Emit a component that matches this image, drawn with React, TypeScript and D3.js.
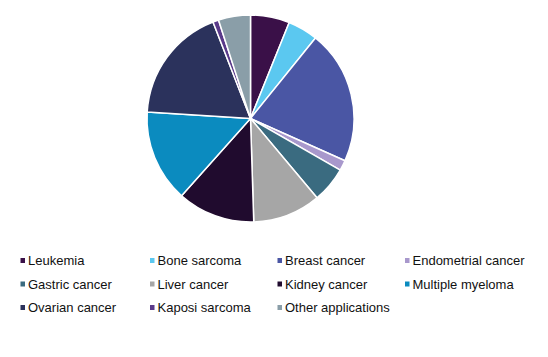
import React from "react";
import * as d3 from "d3";

const categories = [
  "Leukemia",
  "Bone sarcoma",
  "Breast cancer",
  "Endometrial cancer",
  "Gastric cancer",
  "Liver cancer",
  "Kidney cancer",
  "Multiple myeloma",
  "Ovarian cancer",
  "Kaposi sarcoma",
  "Other applications",
];
const values = [6.1, 4.7, 20.9, 1.6, 5.6, 10.6, 12.1, 14.4, 18.1, 0.9, 5.0];
const colors = [
  "#3a1048",
  "#5bc8f0",
  "#4a56a4",
  "#a898cc",
  "#3a6b80",
  "#a6a6a6",
  "#200b2e",
  "#0b8bbf",
  "#2b325c",
  "#5a3a8a",
  "#8a9ea8",
];

export default function App() {
  const W = 548;
  const H = 357;
  const cx = 250.5;
  const cy = 118.5;
  const r = 103.5;
  const pie = d3.pie<number>().sort(null).value((d) => d);
  const arcs = pie(values);
  const arc = d3.arc<d3.PieArcDatum<number>>().innerRadius(0).outerRadius(r);

  const colX = [20.5, 150, 277.5, 405];
  const rowY = [260.5, 284, 307.5];

  return (
    <svg
      width={W}
      height={H}
      style={{ position: "absolute", left: 0, top: 0, background: "#fff" }}
    >
      <g transform={`translate(${cx},${cy})`}>
        {arcs.map((a, i) => (
          <path
            key={i}
            d={arc(a) || ""}
            fill={colors[i]}
            stroke="#fff"
            strokeWidth={1.5}
            strokeLinejoin="round"
          />
        ))}
      </g>
      <g fontFamily="'Liberation Sans', Arial, sans-serif" fontSize={13} fill="#111">
        {categories.map((c, i) => {
          const col = i % 4;
          const row = Math.floor(i / 4);
          const x = colX[col];
          const y = rowY[row];
          return (
            <g key={c}>
              <rect x={x} y={y - 2.5} width={4.5} height={5} fill={colors[i]} />
              <text x={x + 7.5} y={y} dominantBaseline="central">
                {c}
              </text>
            </g>
          );
        })}
      </g>
    </svg>
  );
}
